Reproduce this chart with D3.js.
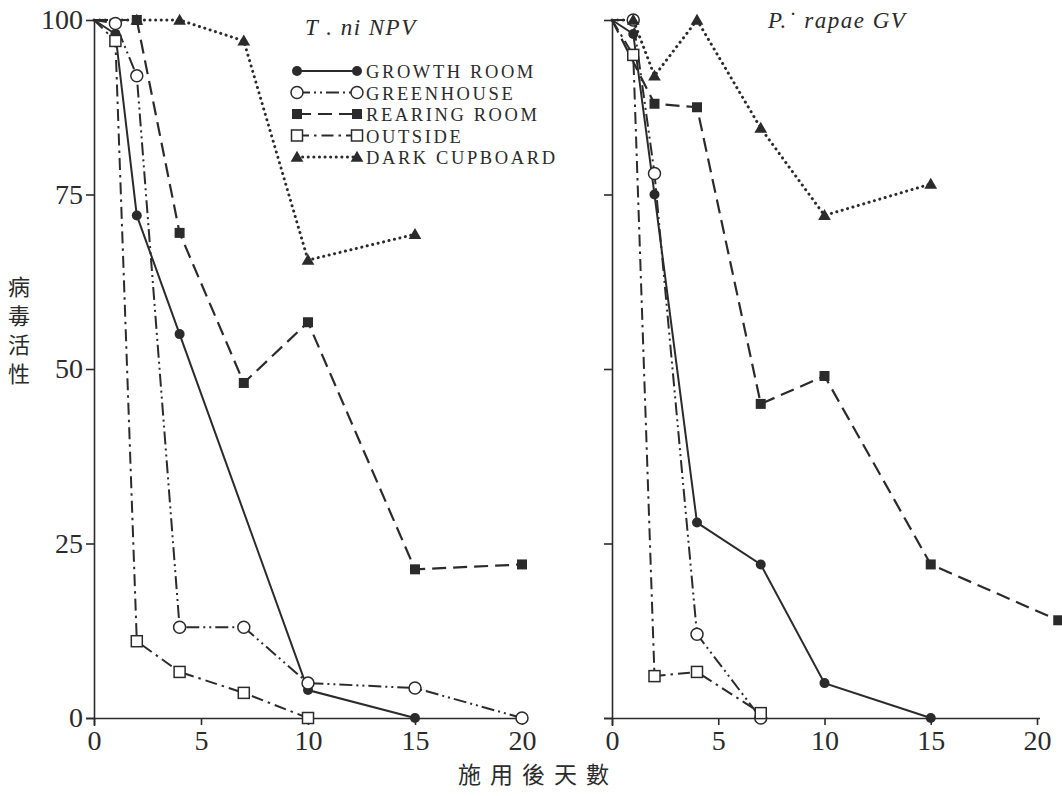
<!DOCTYPE html>
<html>
<head>
<meta charset="utf-8">
<script src="https://cdn.jsdelivr.net/npm/d3@7"></script>
<style>
  body { margin: 0; background: #fff; }
  text { fill: #2b2b2b; }
</style>
</head>
<body>
<div id="chart"></div>
<script>
// ---- data ----
let seriesNames = ["GROWTH ROOM", "GREENHOUSE", "REARING ROOM", "OUTSIDE", "DARK CUPBOARD"];
let yTicks = [0, 25, 50, 75, 100];
let xTicks = [0, 5, 10, 15, 20];

// T. ni NPV
let tniGrowthDays = [0, 1, 2, 4, 10, 15];
let tniGrowth     = [100, 98, 72, 55, 4, 0];
let tniGreenDays  = [0, 1, 2, 4, 7, 10, 15, 20];
let tniGreen      = [100, 99.5, 92, 13, 13, 5, 4.3, 0];
let tniRearDays   = [0, 2, 4, 7, 10, 15, 20];
let tniRear       = [100, 100, 69.5, 48, 56.7, 21.3, 22];
let tniOutDays    = [0, 1, 2, 4, 7, 10];
let tniOut        = [100, 97, 11, 6.6, 3.6, 0];
let tniDarkDays   = [0, 2, 4, 7, 10, 15];
let tniDark       = [100, 100, 100, 97, 65.6, 69.3];

// P. rapae GV
let prGrowthDays = [0, 1, 2, 4, 7, 10, 15];
let prGrowth     = [100, 98, 75, 28, 22, 5, 0];
let prGreenDays  = [0, 1, 2, 4, 7];
let prGreen      = [100, 100, 78, 12, 0];
let prRearDays   = [0, 2, 4, 7, 10, 15, 21];
let prRear       = [100, 88, 87.5, 45, 49, 22, 14];
let prOutDays    = [0, 1, 2, 4, 7];
let prOut        = [100, 95, 6, 6.6, 0.7];
let prDarkDays   = [0, 1, 2, 4, 7, 10, 15];
let prDark       = [100, 100, 92, 100, 84.5, 72, 76.5];

let dim = { width: 1062, height: 796 };
let ink = '#2b2b2b';

let svg = d3.select('#chart').append('svg')
    .attr('width', dim.width)
    .attr('height', dim.height);

let scaleY = d3.scaleLinear().domain([0, 100]).range([718, 20]);

// line styles per series
let styles = [
  { dash: null,                 width: 2,   cap: 'butt',  marker: 'fcircle' },
  { dash: '13,4,2,4,2,4',       width: 2,   cap: 'butt',  marker: 'ocircle' },
  { dash: '14,7',               width: 2.2, cap: 'butt',  marker: 'fsquare' },
  { dash: '12,5,2.5,5',         width: 2,   cap: 'butt',  marker: 'osquare' },
  { dash: '0.1,5.5',            width: 3,   cap: 'round', marker: 'ftri' }
];

function drawMarker(g, kind, x, y) {
  if (kind === 'fcircle') {
    g.append('circle').attr('cx', x).attr('cy', y).attr('r', 5).attr('fill', ink);
  } else if (kind === 'ocircle') {
    g.append('circle').attr('cx', x).attr('cy', y).attr('r', 6)
      .attr('fill', '#fff').attr('stroke', ink).attr('stroke-width', 1.5);
  } else if (kind === 'fsquare') {
    g.append('rect').attr('x', x - 5).attr('y', y - 5).attr('width', 10).attr('height', 10).attr('fill', ink);
  } else if (kind === 'osquare') {
    g.append('rect').attr('x', x - 5.5).attr('y', y - 5.5).attr('width', 11).attr('height', 11)
      .attr('fill', '#fff').attr('stroke', ink).attr('stroke-width', 1.5);
  } else {
    g.append('path').attr('d', d3.symbol().type(d3.symbolTriangle).size(70)())
      .attr('transform', `translate(${x},${y + 1})`).attr('fill', ink);
  }
}

function panel(x0, x1, series, title, titleX, titleY, yLabels) {
  let scaleX = d3.scaleLinear().domain([0, 20]).range([x0, x1]);

  let axisX = svg.append('g')
      .attr('transform', 'translate(0,718)')
      .call(d3.axisBottom(scaleX).tickValues(xTicks).tickSize(7).tickSizeOuter(0).tickPadding(5));
  axisX.select('.domain').attr('d', `M${x0 - 8},0.5H${x1 + 3}`);
  axisX.selectAll('text').attr('font-family', 'Liberation Serif').attr('font-size', 28).attr('fill', ink);

  let axisY = svg.append('g')
      .attr('transform', `translate(${x0},0)`)
      .call(d3.axisLeft(scaleY).tickValues(yTicks).tickSize(8).tickSizeOuter(0).tickPadding(3)
            .tickFormat(yLabels ? d3.format('d') : ''));
  axisY.select('.domain').attr('d', `M0.5,20V726`);
  axisY.selectAll('text').attr('font-family', 'Liberation Serif').attr('font-size', 28).attr('fill', ink);
  svg.selectAll('.domain, .tick line').attr('stroke', ink).attr('stroke-width', 1.6);

  let line = d3.line().x(d => scaleX(d.day)).y(d => scaleY(d.v));

  series.forEach((s, i) => {
    let pts = s.days.map((d, j) => ({ day: d, v: s.vals[j] }));
    let st = styles[i];
    svg.append('path').datum(pts)
      .attr('d', line)
      .attr('fill', 'none')
      .attr('stroke', ink)
      .attr('stroke-width', st.width)
      .attr('stroke-linecap', st.cap)
      .attr('stroke-dasharray', st.dash);
  });
  // markers on top (skip the day 0 start point)
  series.forEach((s, i) => {
    let g = svg.append('g');
    s.days.forEach((d, j) => {
      if (d > 0) drawMarker(g, styles[i].marker, scaleX(d), scaleY(s.vals[j]));
    });
  });

  svg.append('text')
    .attr('x', titleX).attr('y', titleY)
    .attr('font-family', 'Liberation Serif').attr('font-style', 'italic')
    .attr('font-size', 23).attr('letter-spacing', 1.5)
    .text(title);
}

panel(94, 522, [
  { days: tniGrowthDays, vals: tniGrowth },
  { days: tniGreenDays, vals: tniGreen },
  { days: tniRearDays, vals: tniRear },
  { days: tniOutDays, vals: tniOut },
  { days: tniDarkDays, vals: tniDark }
], 'T . ni  NPV', 305, 35, true);

panel(612, 1037, [
  { days: prGrowthDays, vals: prGrowth },
  { days: prGreenDays, vals: prGreen },
  { days: prRearDays, vals: prRear },
  { days: prOutDays, vals: prOut },
  { days: prDarkDays, vals: prDark }
], "P.\u02D9 rapae  GV", 768, 28, false);

// legend
let legend = svg.append('g');
seriesNames.forEach((name, i) => {
  let base = 78 + i * 21.5;
  let cy = base - 7;
  let st = styles[i];
  legend.append('line')
    .attr('x1', 297).attr('x2', 357).attr('y1', cy).attr('y2', cy)
    .attr('stroke', ink).attr('stroke-width', st.width)
    .attr('stroke-linecap', st.cap)
    .attr('stroke-dasharray', st.dash);
  drawMarker(legend, st.marker, 297, cy);
  drawMarker(legend, st.marker, 357, cy);
  legend.append('text')
    .attr('x', 366).attr('y', base)
    .attr('font-family', 'Liberation Serif').attr('font-size', 18.5)
    .attr('letter-spacing', 2.6)
    .text(name);
});

// axis titles
['病', '毒', '活', '性'].forEach((ch, i) => {
  svg.append('text')
    .attr('x', 19).attr('y', 295 + i * 29)
    .attr('text-anchor', 'middle')
    .attr('font-family', 'Noto Sans CJK TC').attr('font-size', 22)
    .text(ch);
});

svg.append('text')
  .attr('x', 538).attr('y', 783)
  .attr('text-anchor', 'middle')
  .attr('font-family', 'Noto Sans CJK TC').attr('font-size', 23)
  .attr('letter-spacing', 9)
  .text('施用後天數');
</script>
</body>
</html>
